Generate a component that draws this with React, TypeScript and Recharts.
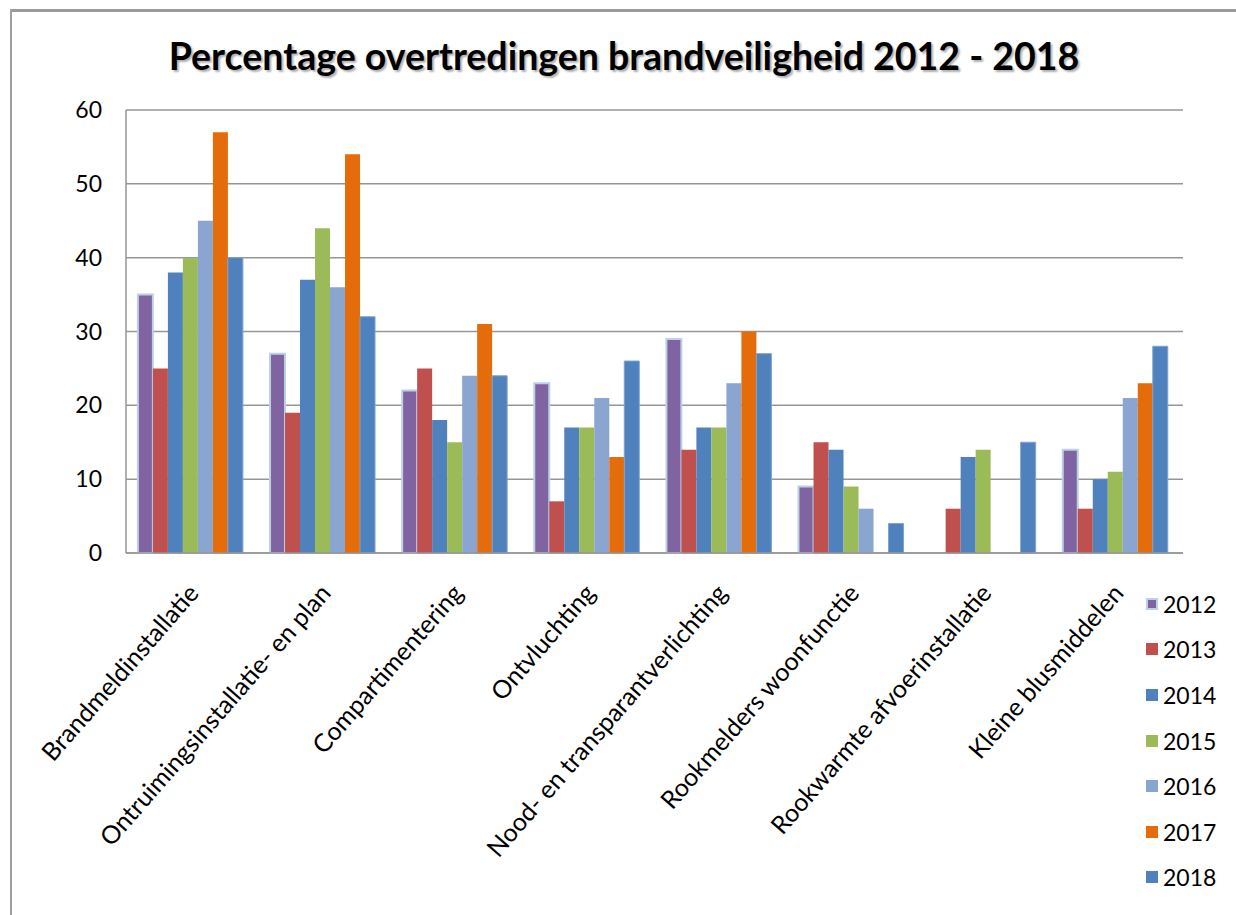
import * as React from "react";
import { BarChart, Bar, XAxis, YAxis, CartesianGrid, Legend } from "recharts";

const categories = [
  "Brandmeldinstallatie",
  "Ontruimingsinstallatie- en plan",
  "Compartimentering",
  "Ontvluchting",
  "Nood- en transparantverlichting",
  "Rookmelders woonfunctie",
  "Rookwarmte afvoerinstallatie",
  "Kleine blusmiddelen",
];

const years = ["2012", "2013", "2014", "2015", "2016", "2017", "2018"];

const v2012 = [35, 27, 22, 23, 29, 9, 0, 14];
const v2013 = [25, 19, 25, 7, 14, 15, 6, 6];
const v2014 = [38, 37, 18, 17, 17, 14, 13, 10];
const v2015 = [40, 44, 15, 17, 17, 9, 14, 11];
const v2016 = [45, 36, 24, 21, 23, 6, 0, 21];
const v2017 = [57, 54, 31, 13, 30, 0, 0, 23];
const v2018 = [40, 32, 24, 26, 27, 4, 15, 28];

const yTicks = [0, 10, 20, 30, 40, 50, 60];

const colors = ["#8064A2", "#C0504D", "#4F81BD", "#9BBB59", "#8AA6D0", "#E46C0A", "#4F81BD"];
const seriesValues = [v2012, v2013, v2014, v2015, v2016, v2017, v2018];

const data = categories.map((name, i) => {
  const row: Record<string, string | number> = { name };
  years.forEach((y, s) => {
    row[y] = seriesValues[s][i];
  });
  return row;
});

const FONT = "Lato, 'Open Sans', sans-serif";

function CategoryTick({ x, y, payload }: any) {
  return (
    <g transform={`translate(${x + 8},${y + 33})`}>
      <text transform="rotate(-49)" textAnchor="end" fontSize={25} fill="#000" fontFamily={FONT}>
        {payload.value}
      </text>
    </g>
  );
}

function LegendBox({ payload }: any) {
  return (
    <div style={{ fontFamily: FONT }}>
      {(payload ?? []).map((p: any, i: number) => (
        <div
          key={p.value}
          style={{ display: "flex", alignItems: "center", height: 45.6, fontSize: 23, color: "#000" }}
        >
          <span
            style={{
              display: "inline-block",
              width: 12,
              height: 12,
              background: p.color,
              border: i === 0 ? "2px solid #BCD0EA" : "1px solid transparent",
              marginRight: 5,
              boxSizing: "border-box",
            }}
          />
          {p.value}
        </div>
      ))}
    </div>
  );
}

export default function App() {
  return (
    <div style={{ position: "absolute", left: 0, top: 0, width: 1236, height: 915, background: "#fff" }}>
      <div style={{ position: "absolute", left: 10, top: 9, width: 1226, height: 3, background: "#9a9a9a" }} />
      <div style={{ position: "absolute", left: 10, top: 9, width: 2, height: 906, background: "#a0a0a0" }} />
      <div
        style={{
          position: "absolute",
          left: 0,
          width: 1248,
          top: 33,
          textAlign: "center",
          fontFamily: FONT,
          fontWeight: 700,
          fontSize: 37.5,
          color: "#000",
          textShadow: "2px 2px 2px #b0b0b0",
        }}
      >
        Percentage overtredingen brandveiligheid 2012 - 2018
      </div>
      <BarChart
        width={1236}
        height={915}
        data={data}
        margin={{ top: 110, right: 53, bottom: 0, left: 0 }}
        barCategoryGap="9%"
        barGap={0}
        style={{ position: "absolute", left: 0, top: 0 }}
      >
        <CartesianGrid vertical={false} stroke="#969696" strokeWidth={1.5} />
        <XAxis
          dataKey="name"
          height={362}
          interval={0}
          tickLine={false}
          axisLine={{ stroke: "#969696", strokeWidth: 1.5 }}
          tick={<CategoryTick />}
        />
        <YAxis
          width={126}
          domain={[0, 60]}
          ticks={yTicks}
          tickLine={false}
          tickSize={0}
          tickMargin={24}
          axisLine={{ stroke: "#969696", strokeWidth: 1.5 }}
          tick={{ fontSize: 23, fill: "#000", fontFamily: FONT }}
        />
        <Legend
          layout="vertical"
          align="center"
          verticalAlign="middle"
          wrapperStyle={{ left: 1146, top: 581, width: 90 }}
          content={<LegendBox />}
        />
        {years.map((y, s) => (
          <Bar
            key={y}
            dataKey={y}
            fill={colors[s]}
            stroke={s === 0 ? "#BCD0EA" : s === 6 ? "#7FA3D0" : undefined}
            strokeWidth={s === 0 ? 2 : 1}
            isAnimationActive={false}
          />
        ))}
      </BarChart>
    </div>
  );
}
